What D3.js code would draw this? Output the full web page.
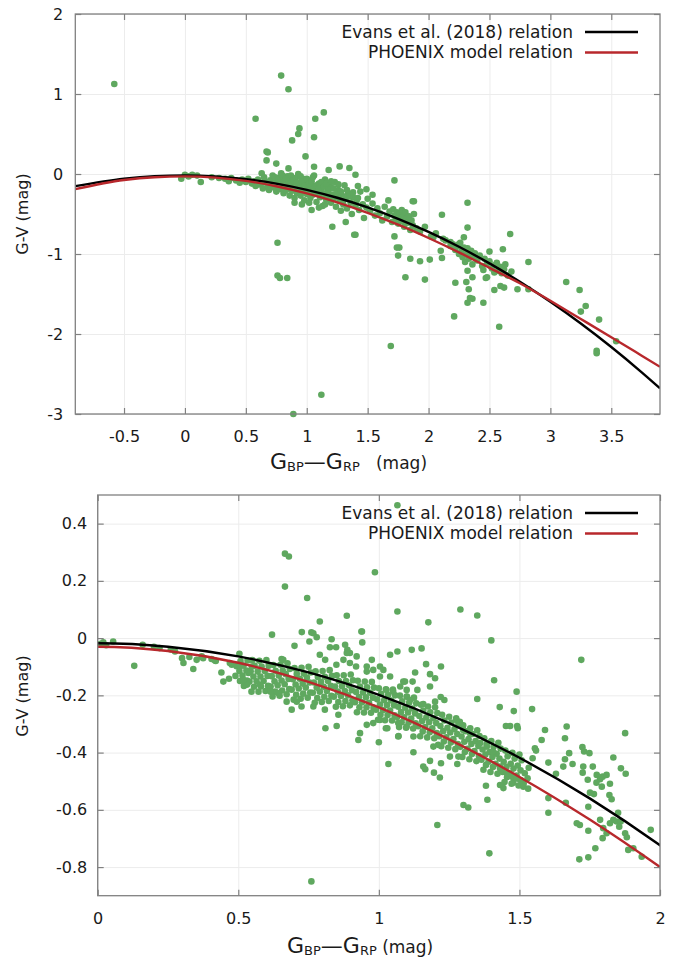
<!DOCTYPE html>
<html>
<head>
<meta charset="utf-8">
<script src="https://cdn.jsdelivr.net/npm/d3@7"></script>
<style>
body{margin:0;background:#fff}
svg{display:block;font-family:"DejaVu Sans",sans-serif}
</style>
</head>
<body>
<div id="container"></div>
<script>

// relations
const relX = [-0.9,-0.5,-0.25,0,0.25,0.5,0.75,1,1.25,1.5,1.75,2,2.25,2.5,2.75,3,3.25,3.5,3.75,3.9]
const evansY = [-0.152,-0.058,-0.027,-0.018,-0.030,-0.064,-0.120,-0.198,-0.297,-0.418,-0.560,-0.724,-0.910,-1.117,-1.346,-1.597,-1.869,-2.163,-2.479,-2.679]
const phoenixY = [-0.19,-0.075,-0.04,-0.03,-0.045,-0.086,-0.153,-0.242,-0.354,-0.485,-0.634,-0.800,-0.980,-1.173,-1.365,-1.585,-1.812,-2.040,-2.271,-2.410]
const legendNames = ["Evans et al. (2018) relation","PHOENIX model relation"]

const topTicksX = [-0.5,0,0.5,1,1.5,2,2.5,3,3.5]
const topTicksY = [2,1,0,-1,-2,-3]
const botTicksX = [0,0.5,1,1.5,2]
const botTicksY = [0.4,0.2,0,-0.2,-0.4,-0.6,-0.8]

// upper panel stars  [BP-RP, G-V]
const topStars = [
[-0.58,1.125],[0.79,1.23],[0.85,1.06],[0.58,0.69],[1.14,0.77],[1.07,0.69],[0.94,0.57],[0.93,0.50],[0.88,0.42],[1.06,0.46],
[0.99,0.22],[0.67,0.28],[0.68,0.27],[0.67,0.17],[0.75,0.13],[1.06,0.09],[1.18,0.05],[0.85,0.07],[0.63,0.01],[1.04,-0.45],
[1.21,-0.66],[-0.03,-0.06],[0.06,-0.01],[0.13,-0.10],[0.0,-0.01],[0.03,-0.03],[0.1,-0.02],[1.27,0.095],[1.35,0.075],[1.40,-0.01],
[1.72,-0.08],[1.42,-0.15],[2.32,-0.36],[2.11,-0.51],[2.32,-0.67],[1.87,-0.34],[0.76,-0.86],[0.76,-1.27],[0.78,-1.30],[0.84,-1.30],
[1.12,-2.76],[0.89,-3.0],[1.40,-0.76],[2.67,-0.75],[2.61,-0.94],[2.82,-1.10],[1.85,-1.06],[1.93,-1.09],[2.01,-1.07],[2.11,-1.05],
[1.81,-1.29],[1.97,-1.32],[2.22,-1.36],[2.31,-1.35],[2.33,-1.44],[2.32,-1.61],[2.36,-1.56],[2.45,-1.61],[2.21,-1.78],[2.58,-1.91],
[2.47,-1.30],[2.54,-1.45],[2.62,-1.42],[2.59,-1.40],[2.73,-1.44],[3.13,-1.35],[3.24,-1.45],[3.25,-1.72],[3.29,-1.65],[3.40,-1.82],
[3.54,-2.09],[3.38,-2.21],[3.38,-2.24],[1.69,-2.15],[1.76,-0.92],[1.75,-1.02],[1.72,-0.78],[1.49,-0.19],[1.54,-0.26],[1.88,-0.34],
[1.67,-0.33],[1.32,-0.60],[1.39,-0.76],[1.74,-0.92],[2.10,-0.96],[2.04,-0.79],[2.12,-0.81],[2.18,-0.85],[2.25,-0.875],
[2.29,-0.79],[2.50,-0.97],[2.45,-1.2],[2.54,-1.23],[2.48,-1.29],[2.36,-1.29],[2.32,-1.21],[2.34,-1.55],[2.82,-1.44],
[0.22,-0.04],[0.28,-0.05],[0.33,-0.06],[0.38,-0.05],[0.42,-0.08],[0.47,-0.07],[0.5,-0.1],[0.45,-0.11],[0.36,-0.09],
[0.52,-0.06],[0.55,-0.12],[0.57,-0.09],[0.58,-0.15],[0.6,-0.07],[0.61,-0.13],[0.63,-0.11],[0.64,-0.18],[0.65,-0.04],[0.66,-0.1],
[0.68,-0.15],[0.69,-0.2],[0.7,-0.08],[0.71,-0.12],[0.72,-0.02],[0.73,-0.17],[0.74,-0.1],[0.75,-0.22],
[0.76,-0.05],[0.77,-0.13],[0.78,-0.09],[0.78,-0.19],[0.79,0.01],[0.8,-0.15],[0.81,-0.24],[0.82,-0.07],[0.82,-0.12],[0.83,-0.2],
[0.84,-0.03],[0.85,-0.16],[0.86,-0.1],[0.86,-0.27],[0.87,-0.13],[0.88,-0.05],[0.88,-0.21],[0.89,-0.17],[0.9,-0.09],[0.9,-0.3],
[0.91,-0.14],[0.92,-0.24],[0.93,0.0],[0.93,-0.19],[0.94,-0.11],[0.95,-0.27],[0.96,-0.16],[0.97,-0.06],[0.97,-0.22],[0.98,-0.33],
[0.99,-0.13],[1.0,-0.25],[1.0,-0.18],
[1.01,-0.08],[1.02,-0.21],[1.03,-0.3],[1.04,-0.15],[1.05,-0.26],[1.06,-0.02],[1.07,-0.19],[1.08,-0.35],[1.09,-0.23],[1.1,-0.12],
[1.11,-0.29],[1.12,-0.2],[1.13,-0.4],[1.14,-0.25],[1.15,-0.07],[1.16,-0.32],[1.17,-0.22],[1.18,-0.28],[1.19,-0.15],[1.2,-0.36],
[1.21,-0.26],[1.22,-0.31],[1.23,-0.1],[1.24,-0.41],[1.25,-0.29],[1.26,-0.2],[1.27,-0.34],[1.28,-0.46],[1.29,-0.27],[1.3,-0.38],
[1.31,-0.14],[1.32,-0.31],[1.33,-0.43],[1.34,-0.25],[1.36,-0.36],[1.37,-0.5],[1.38,-0.29],[1.4,-0.4],[1.41,-0.33],[1.43,-0.45],
[1.44,-0.22],[1.46,-0.38],[1.47,-0.55],[1.49,-0.42],[1.5,-0.31],
[0.74,-0.04],[0.77,-0.07],[0.8,-0.02],[0.81,-0.1],[0.83,-0.06],[0.85,-0.12],[0.87,-0.02],[0.89,-0.08],[0.91,-0.05],[0.92,-0.11],
[0.95,-0.03],[0.96,-0.09],[0.98,-0.15],[1.0,-0.06],[1.02,-0.12],[1.04,-0.09],[1.05,-0.04],[1.08,-0.14],[1.1,-0.18],[1.12,-0.1],
[1.14,-0.16],[1.16,-0.12],[1.18,-0.2],[1.2,-0.09],[1.22,-0.18],[1.24,-0.25],[1.26,-0.13],[1.28,-0.22],[1.3,-0.3],[1.33,-0.2],
[1.35,-0.28],[1.38,-0.23],[1.42,-0.3],[0.9,-0.36],[0.96,-0.38],[1.02,-0.36],[1.1,-0.42],[1.15,-0.38],
[1.52,-0.46],[1.54,-0.37],[1.56,-0.52],[1.58,-0.43],[1.6,-0.49],[1.62,-0.58],[1.64,-0.41],[1.66,-0.53],[1.68,-0.47],[1.7,-0.6],
[1.71,-0.44],[1.72,-0.52],[1.73,-0.57],[1.74,-0.48],[1.75,-0.62],[1.76,-0.5],[1.77,-0.55],[1.78,-0.45],[1.79,-0.59],[1.8,-0.52],
[1.8,-0.66],[1.81,-0.48],[1.82,-0.56],[1.83,-0.61],[1.84,-0.53],[1.85,-0.7],[1.86,-0.58],[1.87,-0.64],[1.88,-0.5],[1.9,-0.68],
[1.93,-0.72],[1.97,-0.66],[2.02,-0.78],[2.06,-0.74],[2.14,-0.83],[2.18,-0.9],
[2.2,-0.88],[2.22,-0.95],[2.24,-0.9],[2.25,-1.0],[2.26,-0.86],[2.27,-0.97],[2.28,-1.04],[2.29,-0.92],[2.3,-1.1],[2.31,-0.98],
[2.32,-0.93],[2.33,-1.06],[2.34,-1.0],[2.35,-0.96],[2.36,-1.13],[2.37,-1.03],[2.38,-0.99],[2.4,-1.08],[2.42,-1.02],[2.44,-1.15],
[2.46,-1.06],[2.48,-1.12],[2.5,-1.09],[2.52,-1.18],[2.54,-1.14],[2.56,-1.11],[2.57,-1.21],[2.59,-1.16],[2.6,-1.24],[2.62,-1.19],
[2.63,-1.13],[2.65,-1.27],[2.68,-1.22]
]

// lower panel, loose stars
const botScatter = [
[0.01,-0.02],[0.03,-0.025],[0.055,-0.012],[0.02,-0.015],[0.13,-0.097],[0.16,-0.023],[0.2,-0.03],[0.22,-0.035],[0.26,-0.04],[0.275,-0.047],
[0.30,-0.07],[0.305,-0.087],[0.326,-0.066],[0.34,-0.108],[0.352,-0.076],[0.37,-0.064],[0.375,-0.07],[0.405,-0.073],[0.417,-0.078],[0.42,-0.08],
[0.44,-0.12],[0.447,-0.152],[0.467,-0.142],[0.47,-0.087],[0.477,-0.093],[0.504,-0.055],[0.506,-0.099],[0.52,-0.167],[0.532,-0.16],[0.548,-0.099],
[0.536,-0.122],[0.62,0.012],[0.666,0.295],[0.68,0.285],[0.666,0.18],[0.745,0.14],[0.79,0.058],[0.726,0.021],[0.76,0.02],[0.767,0.017],
[0.779,0.003],[0.70,-0.027],[0.753,-0.012],[0.832,-0.004],[0.826,-0.032],[0.848,-0.032],[0.88,-0.023],[0.888,-0.041],[0.897,-0.052],[0.886,0.078],
[0.938,0.023],[0.941,-0.015],[0.654,-0.073],[0.66,-0.076],[0.69,-0.25],[0.76,-0.85],
[0.81,-0.315],[0.85,-0.307],[0.927,-0.356],[0.933,-0.332],[1.0,-0.364],[1.07,-0.342],[1.03,-0.315],[0.957,-0.303],[0.98,-0.297],[1.004,-0.286],
[0.856,-0.268],[0.808,-0.25],[0.767,-0.239],[0.725,-0.239],[0.708,-0.222],[0.672,-0.222],[0.642,-0.192],[0.615,-0.187],[0.577,-0.163],[0.53,-0.163],
[1.066,0.464],[0.986,0.23],[1.066,0.093],[1.29,0.10],[1.35,0.079],[1.176,0.055],[0.94,0.023],[1.40,-0.008],[1.72,-0.076],[1.04,-0.058],
[1.066,-0.047],[1.117,-0.041],[1.152,-0.036],[1.168,-0.091],[1.221,-0.099],[1.129,-0.12],[1.182,-0.126],[1.2,-0.14],[1.41,-0.147],[1.49,-0.187],
[1.35,-0.213],[1.43,-0.241],[1.48,-0.255],[1.545,-0.248],[1.12,-0.152],[1.093,-0.152],[1.137,-0.181],[1.182,-0.169],[1.233,-0.216],[1.22,-0.206],
[1.2,-0.222],[1.158,-0.23],[1.452,-0.307],[1.467,-0.307],[1.492,-0.307],[1.494,-0.315],
[1.591,-0.321],[1.579,-0.356],[1.555,-0.385],[1.559,-0.393],[1.547,-0.42],[1.603,-0.435],[1.63,-0.474],[1.662,-0.35],[1.668,-0.309],[1.677,-0.402],
[1.662,-0.423],[1.656,-0.449],[1.689,-0.44],[1.724,-0.381],[1.73,-0.396],[1.749,-0.402],[1.727,-0.449],[1.725,-0.47],[1.761,-0.449],[1.775,-0.478],
[1.787,-0.493],[1.796,-0.484],[1.81,-0.478],[1.834,-0.417],[1.861,-0.455],[1.878,-0.474],[1.876,-0.332],[1.743,-0.495],[1.774,-0.505],[1.793,-0.519],
[1.822,-0.509],[1.765,-0.545],[1.751,-0.54],[1.82,-0.548],[1.828,-0.563],[1.851,-0.61],[1.834,-0.635],[1.822,-0.647],[1.846,-0.641],[1.86,-0.641],
[1.855,-0.659],[1.876,-0.682],[1.882,-0.696],[1.887,-0.74],[1.905,-0.734],[1.967,-0.67],[1.935,-0.764],[1.81,-0.682],[1.796,-0.699],[1.798,-0.664],
[1.787,-0.635],[1.77,-0.734],[1.745,-0.673],[1.704,-0.647],[1.715,-0.653],[1.713,-0.773],[1.745,-0.766],[1.603,-0.61],[1.603,-0.559],[1.665,-0.575],
[1.745,-0.589],[1.034,-0.44],[1.123,-0.399],[1.158,-0.449],[1.165,-0.458],[1.196,-0.47],[1.221,-0.437],[1.217,-0.487],[1.182,-0.429],[1.279,-0.44],
[1.283,-0.414],[1.301,-0.583],[1.318,-0.592],[1.208,-0.653],[1.393,-0.752],[1.381,-0.516],[1.386,-0.565],[1.431,-0.513],[1.443,-0.524],[1.478,-0.505],
[1.514,-0.519],[1.069,-0.344],[1.123,-0.344],[1.025,-0.315],
[0.79,-0.058],[0.809,-0.076],[0.849,-0.093],[0.874,-0.076],[0.897,-0.087],[0.921,-0.064],[0.957,-0.099],[0.975,-0.076],[1.016,-0.111],[1.04,-0.134],
[1.087,-0.152],[1.099,-0.181],[1.004,-0.099],[1.027,-0.181],[1.051,-0.187],[1.076,-0.169],[1.099,-0.204],[1.111,-0.216],
[1.276,-0.286],[1.288,-0.292],[1.3,-0.321],[1.324,-0.332],[1.36,-0.367],[1.384,-0.379],[1.407,-0.397],
[1.069,-0.297],[1.099,-0.309],[1.194,-0.379],[1.211,-0.373],[1.253,-0.414],
[1.431,-0.449],[1.455,-0.472],[1.473,-0.484],[1.49,-0.49],[1.502,-0.495],[0.518,-0.146],
[0.886,-0.052],[0.919,-0.099],[0.957,-0.117],[0.98,-0.111],[1.004,-0.134]
]

// lower panel, the crowded band
const botBand = [
[0.508,-0.08],[0.494,-0.098],[0.504,-0.115],[0.49,-0.132],[0.506,-0.15],
[0.533,-0.078],[0.519,-0.096],[0.529,-0.113],[0.515,-0.131],[0.531,-0.148],
[0.55,-0.077],[0.558,-0.097],[0.544,-0.116],[0.554,-0.134],[0.54,-0.152],[0.556,-0.17],[0.547,-0.187],
[0.575,-0.079],[0.583,-0.099],[0.569,-0.117],[0.579,-0.134],[0.565,-0.151],[0.581,-0.169],[0.572,-0.187],
[0.6,-0.077],[0.608,-0.097],[0.594,-0.115],[0.604,-0.132],[0.59,-0.15],[0.606,-0.167],[0.597,-0.185],
[0.625,-0.094],[0.633,-0.114],[0.619,-0.133],[0.629,-0.151],[0.615,-0.169],[0.631,-0.187],[0.622,-0.204],
[0.65,-0.093],[0.658,-0.113],[0.644,-0.131],[0.654,-0.148],[0.64,-0.165],[0.656,-0.183],[0.647,-0.201],
[0.675,-0.088],[0.683,-0.108],[0.669,-0.126],[0.679,-0.143],[0.665,-0.161],[0.681,-0.178],[0.672,-0.196],
[0.7,-0.105],[0.708,-0.125],[0.694,-0.144],[0.704,-0.162],[0.69,-0.18],[0.706,-0.198],[0.697,-0.215],
[0.725,-0.104],[0.733,-0.124],[0.719,-0.142],[0.729,-0.159],[0.715,-0.176],[0.731,-0.194],[0.722,-0.212],
[0.75,-0.1],[0.758,-0.12],[0.744,-0.138],[0.754,-0.155],[0.74,-0.173],[0.756,-0.19],[0.747,-0.208],
[0.775,-0.116],[0.783,-0.136],[0.769,-0.155],[0.779,-0.173],[0.765,-0.191],[0.781,-0.209],[0.772,-0.226],
[0.8,-0.115],[0.808,-0.135],[0.794,-0.153],[0.804,-0.17],[0.79,-0.187],[0.806,-0.205],[0.797,-0.223],
[0.825,-0.112],[0.833,-0.132],[0.819,-0.15],[0.829,-0.167],[0.815,-0.185],[0.831,-0.202],[0.822,-0.22],
[0.85,-0.13],[0.858,-0.15],[0.844,-0.169],[0.854,-0.187],[0.84,-0.205],[0.856,-0.223],[0.847,-0.24],
[0.875,-0.13],[0.883,-0.15],[0.869,-0.168],[0.879,-0.185],[0.865,-0.202],[0.881,-0.22],[0.872,-0.238],
[0.9,-0.127],[0.908,-0.147],[0.894,-0.165],[0.904,-0.182],[0.89,-0.2],[0.906,-0.217],[0.897,-0.235],
[0.925,-0.149],[0.933,-0.169],[0.919,-0.188],[0.929,-0.206],[0.915,-0.224],[0.931,-0.242],[0.922,-0.259],
[0.95,-0.152],[0.958,-0.172],[0.944,-0.19],[0.954,-0.207],[0.94,-0.224],[0.956,-0.242],[0.947,-0.26],
[0.975,-0.153],[0.983,-0.173],[0.969,-0.191],[0.979,-0.208],[0.965,-0.226],[0.981,-0.243],[0.972,-0.261],
[1.0,-0.175],[1.008,-0.195],[0.994,-0.214],[1.004,-0.232],[0.99,-0.25],[1.006,-0.268],[0.997,-0.285],
[1.025,-0.179],[1.033,-0.199],[1.019,-0.217],[1.029,-0.234],[1.015,-0.251],[1.031,-0.269],[1.022,-0.287],
[1.05,-0.18],[1.058,-0.2],[1.044,-0.218],[1.054,-0.235],[1.04,-0.253],[1.056,-0.27],[1.047,-0.288],
[1.075,-0.201],[1.083,-0.221],[1.069,-0.24],[1.079,-0.258],[1.065,-0.276],[1.081,-0.294],[1.072,-0.311],
[1.1,-0.205],[1.108,-0.225],[1.094,-0.243],[1.104,-0.26],[1.09,-0.277],[1.106,-0.295],[1.097,-0.313],
[1.125,-0.208],[1.133,-0.228],[1.119,-0.246],[1.129,-0.263],[1.115,-0.281],[1.131,-0.298],[1.122,-0.316],
[1.15,-0.233],[1.158,-0.253],[1.144,-0.272],[1.154,-0.29],[1.14,-0.308],[1.156,-0.326],[1.147,-0.343],
[1.175,-0.239],[1.183,-0.259],[1.169,-0.277],[1.179,-0.294],[1.165,-0.311],[1.181,-0.329],[1.172,-0.347],
[1.2,-0.242],[1.208,-0.262],[1.194,-0.28],[1.204,-0.297],[1.19,-0.315],[1.206,-0.332],[1.197,-0.35],
[1.225,-0.268],[1.233,-0.288],[1.219,-0.307],[1.229,-0.325],[1.215,-0.343],[1.231,-0.361],[1.222,-0.378],
[1.25,-0.275],[1.258,-0.295],[1.244,-0.313],[1.254,-0.33],[1.24,-0.347],[1.256,-0.365],[1.247,-0.383],
[1.275,-0.28],[1.283,-0.3],[1.269,-0.318],[1.279,-0.335],[1.265,-0.353],[1.281,-0.37],[1.272,-0.388],
[1.3,-0.305],[1.308,-0.325],[1.294,-0.344],[1.304,-0.362],[1.29,-0.38],[1.306,-0.398],[1.297,-0.415],
[1.325,-0.315],[1.333,-0.335],[1.319,-0.353],[1.329,-0.37],[1.315,-0.387],[1.331,-0.405],[1.322,-0.423],
[1.35,-0.322],[1.358,-0.342],[1.344,-0.36],[1.354,-0.377],[1.34,-0.395],[1.356,-0.412],[1.347,-0.43],
[1.375,-0.35],[1.383,-0.37],[1.369,-0.389],[1.379,-0.407],[1.365,-0.425],[1.381,-0.443],[1.372,-0.46],
[1.4,-0.36],[1.408,-0.38],[1.394,-0.398],[1.404,-0.415],[1.39,-0.432],[1.406,-0.45],[1.397,-0.468],
[1.425,-0.366],[1.433,-0.386],[1.419,-0.404],[1.429,-0.421],[1.415,-0.439],[1.431,-0.456],[1.422,-0.474],
[1.45,-0.393],[1.458,-0.413],[1.444,-0.432],[1.454,-0.45],[1.44,-0.468],[1.456,-0.486],[1.447,-0.503],
[1.475,-0.401],[1.483,-0.421],[1.469,-0.439],[1.479,-0.456],[1.465,-0.473],[1.481,-0.491],[1.472,-0.509],
[1.5,-0.407],[1.508,-0.427],[1.494,-0.445],[1.504,-0.462],[1.49,-0.48],[1.506,-0.497],[1.497,-0.515],
[1.533,-0.453],[1.519,-0.472],[1.529,-0.49],[1.515,-0.508],[1.531,-0.526]
]

let viz = d3.select("#container").append("svg")
    .attr("width", 678)
    .attr("height", 964)

let green = "#5fa85f"
let frameColor = "#808080"
let relations = [
    {name: legendNames[0], y: evansY, color: "#000000"},
    {name: legendNames[1], y: phoenixY, color: "#b8282c"}
]

drawPanel({
    id: "top", left: 75.3, right: 660, top: 14, bottom: 414,
    xDomain: [-0.9, 3.9], yDomain: [-3, 2],
    ticksX: topTicksX, ticksY: topTicksY,
    stars: [topStars],
    yPad: 12, titleX: 270, titleY: 469, titleGap: "  ", yTitleMid: 214,
    legendY: 32
})

drawPanel({
    id: "bot", left: 97.7, right: 660, top: 495, bottom: 895.7,
    xDomain: [0, 2], yDomain: [-0.9, 0.5],
    ticksX: botTicksX, ticksY: botTicksY,
    stars: [botBand, botScatter],
    yPad: 10.5, titleX: 287, titleY: 953, titleGap: "", yTitleMid: 696,
    legendY: 513
})

function drawPanel(p) {
    let w = p.right - p.left
    let h = p.bottom - p.top
    let x = d3.scaleLinear().domain(p.xDomain).range([p.left, p.right])
    let y = d3.scaleLinear().domain(p.yDomain).range([p.bottom, p.top])

    let g = viz.append("g").attr("class", "panel-" + p.id)

    // faint grid
    g.append("g")
        .attr("transform", "translate(0," + p.bottom + ")")
        .call(d3.axisBottom(x).tickValues(p.ticksX).tickSize(-h).tickFormat(""))
        .call(a => a.select(".domain").remove())
        .selectAll("line").attr("stroke", "#ececec")
    g.append("g")
        .attr("transform", "translate(" + p.left + ",0)")
        .call(d3.axisLeft(y).tickValues(p.ticksY).tickSize(-w).tickFormat(""))
        .call(a => a.select(".domain").remove())
        .selectAll("line").attr("stroke", "#ececec")

    // stars
    p.stars.forEach(function(set) {
        g.append("g").selectAll("circle").data(set).enter()
            .append("circle")
            .attr("cx", d => x(d[0]))
            .attr("cy", d => y(d[1]))
            .attr("r", 3.3)
            .attr("fill", green)
    })

    // relations, clipped to the frame
    g.append("clipPath").attr("id", "clip-" + p.id)
        .append("rect")
        .attr("x", p.left).attr("y", p.top)
        .attr("width", w).attr("height", h)
    let line = d3.line()
        .x((d, i) => x(relX[i]))
        .y(d => y(d))
        .curve(d3.curveMonotoneX)
    g.append("g").attr("clip-path", "url(#clip-" + p.id + ")")
        .selectAll("path").data(relations).enter()
        .append("path")
        .attr("d", d => line(d.y))
        .attr("fill", "none")
        .attr("stroke", d => d.color)
        .attr("stroke-width", 2.4)

    // axes with inward ticks on all four sides
    g.append("g")
        .attr("class", "ax")
        .attr("transform", "translate(0," + p.bottom + ")")
        .call(d3.axisBottom(x).tickValues(p.ticksX).tickSize(-6).tickPadding(16.5).tickFormat(String))
    g.append("g")
        .attr("class", "ax")
        .attr("transform", "translate(" + p.left + ",0)")
        .call(d3.axisLeft(y).tickValues(p.ticksY).tickSize(-6).tickPadding(p.yPad).tickFormat(String))
    g.append("g")
        .attr("class", "ax")
        .attr("transform", "translate(0," + p.top + ")")
        .call(d3.axisTop(x).tickValues(p.ticksX).tickSize(-6).tickFormat(""))
    g.append("g")
        .attr("class", "ax")
        .attr("transform", "translate(" + p.right + ",0)")
        .call(d3.axisRight(y).tickValues(p.ticksY).tickSize(-6).tickFormat(""))
    g.selectAll(".ax .domain").remove()
    g.selectAll(".ax .tick line").attr("stroke", frameColor).attr("stroke-width", 1.2)
    g.selectAll(".ax .tick text")
        .attr("font-family", "DejaVu Sans")
        .attr("font-size", 16)
        .attr("fill", "#1a1a1a")

    g.append("rect")
        .attr("x", p.left).attr("y", p.top)
        .attr("width", w).attr("height", h)
        .attr("fill", "none")
        .attr("stroke", frameColor)
        .attr("stroke-width", 1.3)

    // y title
    g.append("text")
        .attr("transform", "translate(22," + p.yTitleMid + ") rotate(-90)")
        .attr("text-anchor", "middle")
        .attr("dy", "0.35em")
        .attr("font-size", 16)
        .attr("fill", "#1a1a1a")
        .text("G-V (mag)")

    // x title with subscripts
    let t = g.append("text")
        .attr("x", p.titleX).attr("y", p.titleY)
        .attr("fill", "#1a1a1a")
        .attr("font-size", 22)
        .attr("xml:space", "preserve")
    t.append("tspan").text("G")
    t.append("tspan").attr("font-size", 13).attr("dy", 1.5).text("BP")
    t.append("tspan").attr("dy", -1.5).text("\u2014G")
    t.append("tspan").attr("font-size", 13).attr("dy", 1.5).text("RP")
    t.append("tspan").attr("font-size", 17).attr("dy", -1.5).text(p.titleGap + " (mag)")

    // legend
    let leg = g.append("g").selectAll("g").data(relations).enter()
        .append("g")
        .attr("transform", (d, i) => "translate(0," + (p.legendY + i * 20.5) + ")")
    leg.append("text")
        .attr("x", 573)
        .attr("dy", "0.35em")
        .attr("text-anchor", "end")
        .attr("font-size", 17)
        .attr("fill", "#1a1a1a")
        .text(d => d.name)
    leg.append("line")
        .attr("x1", 585).attr("x2", 638)
        .attr("stroke", d => d.color)
        .attr("stroke-width", 2.4)
}
</script>
</body>
</html>
